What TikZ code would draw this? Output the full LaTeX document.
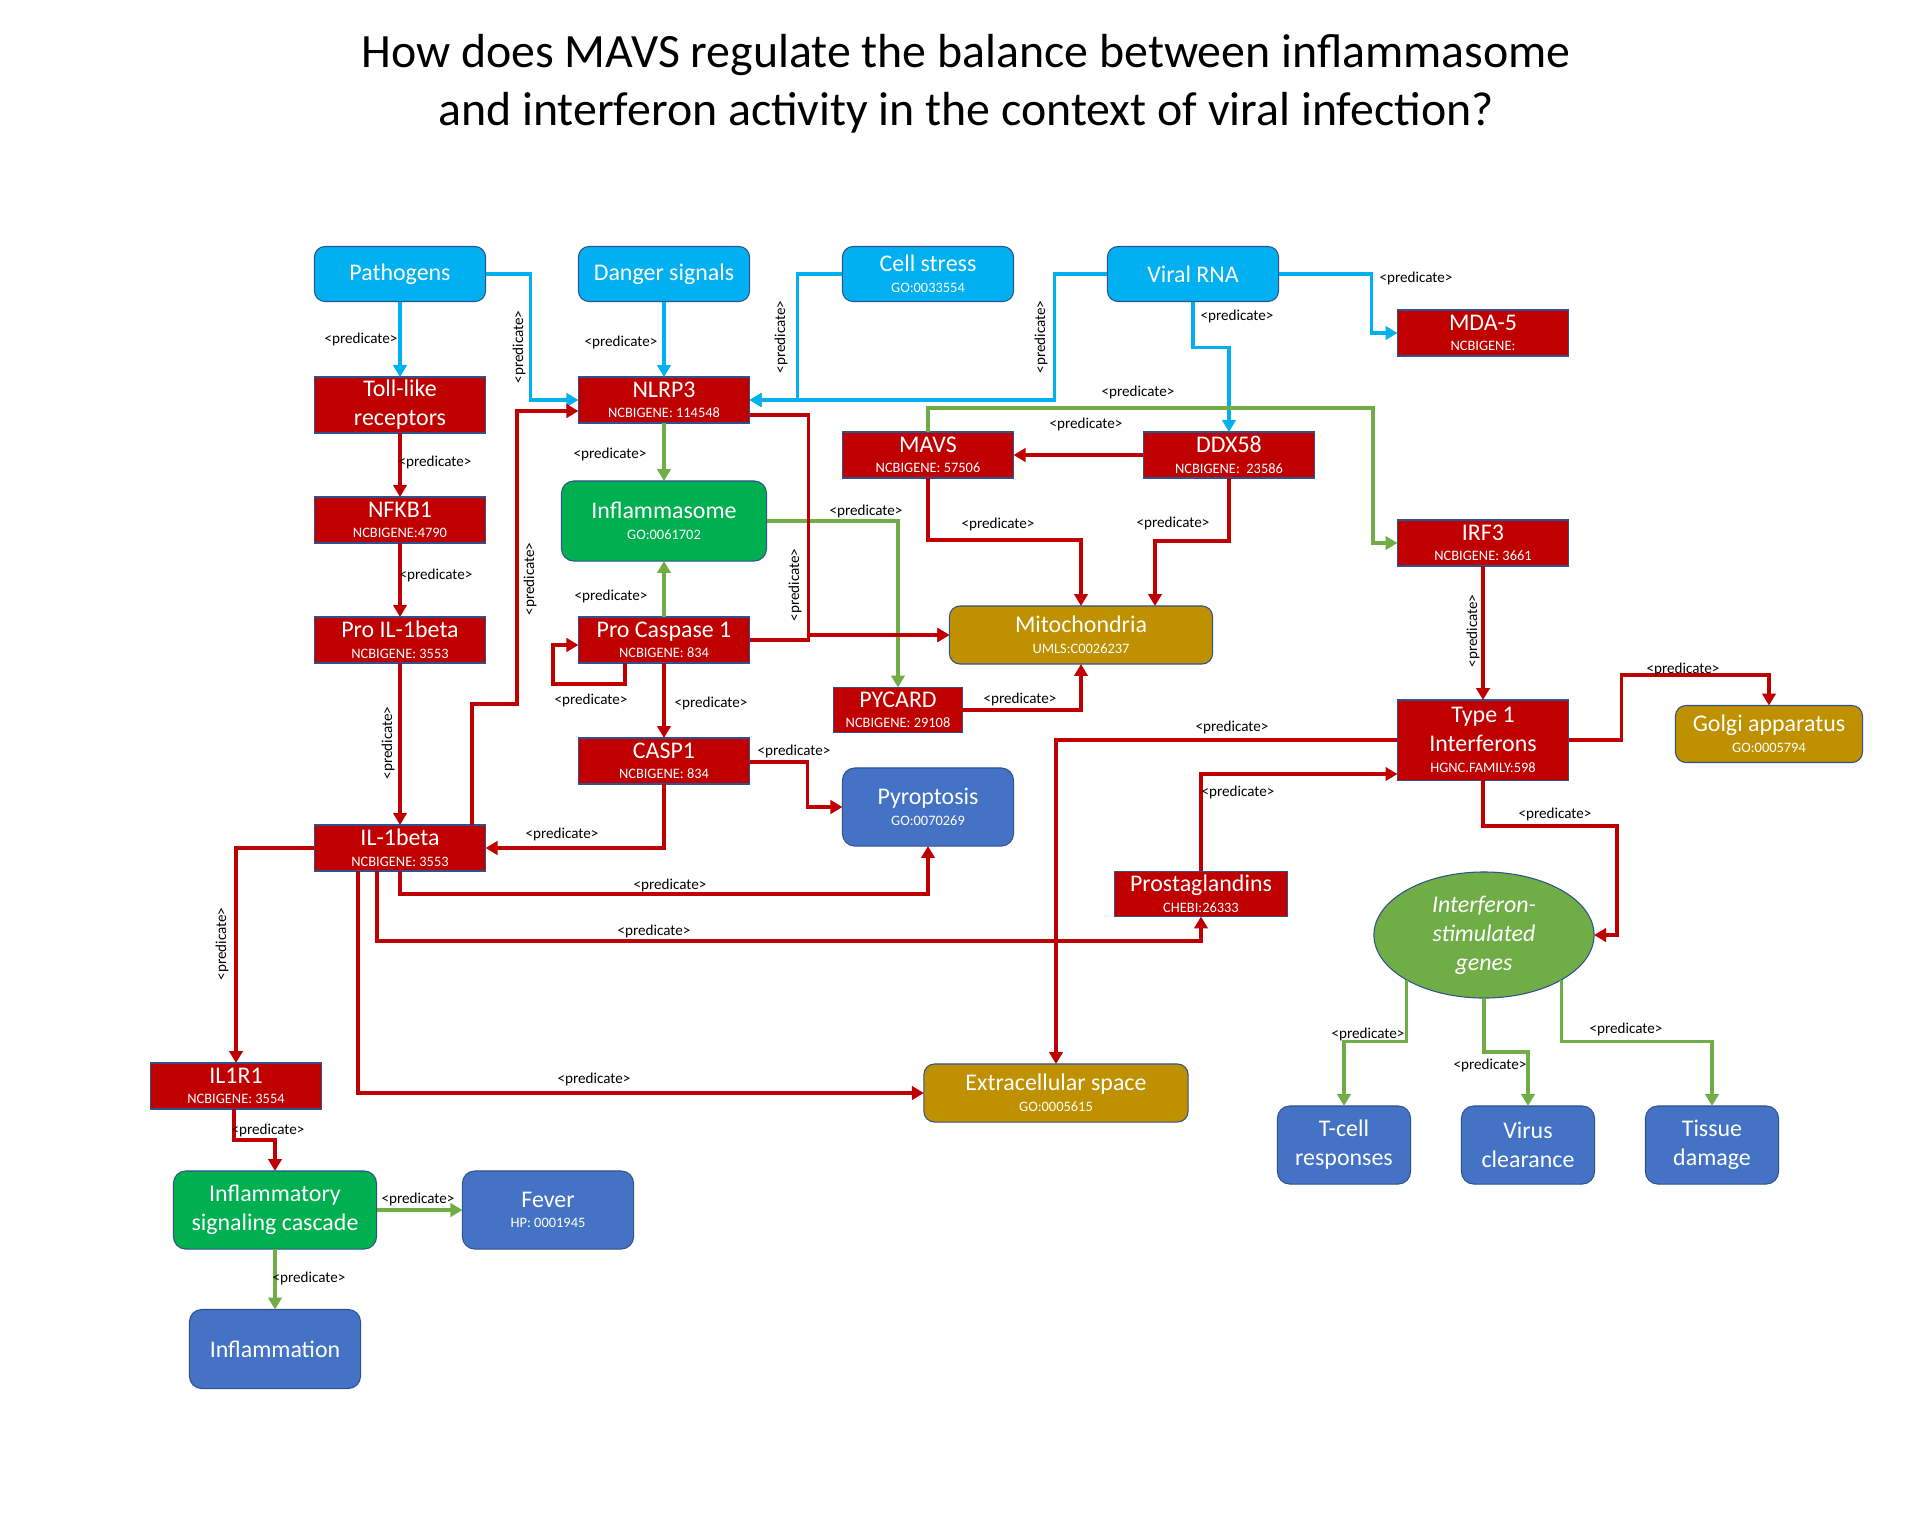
\documentclass[tikz,border=0pt]{standalone}
\usepackage{fontspec}
\setmainfont{Carlito}
\usetikzlibrary{arrows.meta,shapes.geometric,calc}
\definecolor{cyanbox}{HTML}{00B0F0}
\definecolor{redbox}{HTML}{C00000}
\definecolor{greenbox}{HTML}{00B050}
\definecolor{bluebox}{HTML}{4472C4}
\definecolor{goldbox}{HTML}{BF9000}
\definecolor{isgfill}{HTML}{70AD47}
\definecolor{edgeline}{HTML}{2F528F}
\definecolor{lnblue}{HTML}{00B0F0}
\definecolor{lnred}{HTML}{C00000}
\definecolor{lngreen}{HTML}{70AD47}
\newcommand\mainfs{\fontsize{6.8}{8.25}\selectfont}
\newcommand\subfs{\fontsize{4.1}{7.4}\selectfont}
\newcommand\predfs{\fontsize{4.3}{5}\selectfont}
\newcommand\idline{\\[-2.4pt]\subfs}
\tikzset{
 box/.style={draw=edgeline, line width=0.3pt, text=white, align=center, inner sep=0pt, outer sep=0pt, font=\mainfs, minimum width=1.71cm},
 redn/.style={box, fill=redbox, minimum height=0.46cm},
 cyann/.style={box, fill=cyanbox, rounded corners=3pt, minimum height=0.55cm},
 greenn/.style={box, fill=greenbox, rounded corners=3.5pt, minimum height=0.79cm},
 bluen/.style={box, fill=bluebox, rounded corners=3.5pt, minimum height=0.78cm},
 goldn/.style={box, fill=goldbox, rounded corners=3pt, minimum height=0.58cm},
 pred/.style={font=\predfs, text=black, inner sep=0pt},
 conn/.style={line width=0.9pt, -{Triangle[length=3.4pt,width=3.8pt]}},
 cb/.style={conn, draw=lnblue},
 cr/.style={conn, draw=lnred},
 cg/.style={conn, draw=lngreen}
}
\begin{document}
\begin{tikzpicture}[x=0.01cm,y=-0.01cm]
\fill[white] (0,0) rectangle (1920,1536);
\useasboundingbox (0,0) rectangle (1920,1536);

\node[font=\fontsize{13.6}{16.5}\selectfont, align=center, inner sep=0pt] (title) at (966,84)
 {How does MAVS regulate the balance between inflammasome\\and interferon activity in the context of viral infection?};

% nodes
\node[cyann] (pathogens) at (400,274) {Pathogens};
\node[cyann] (danger) at (664,274) {Danger signals};
\node[cyann] (cellstress) at (928,274) {Cell stress\idline GO:0033554};
\node[cyann] (viralrna) at (1193,274) {Viral RNA};
\node[redn] (mda5) at (1483,333) {MDA-5\idline NCBIGENE:};
\node[redn, minimum height=0.56cm] (tlr) at (400,405) {Toll-like\\receptors};
\node[redn] (nlrp3) at (664,400) {NLRP3\idline NCBIGENE: 114548};
\node[redn] (mavs) at (928,455) {MAVS\idline NCBIGENE: 57506};
\node[redn] (ddx58) at (1229,455) {DDX58\idline NCBIGENE: \ 23586};
\node[redn] (nfkb1) at (400,520) {NFKB1\idline NCBIGENE:4790};
\node[greenn, minimum width=2.05cm, minimum height=0.80cm] (inflammasome) at (664,521) {Inflammasome\idline GO:0061702};
\node[redn] (irf3) at (1483,543) {IRF3\idline NCBIGENE: 3661};
\node[redn] (proil) at (400,640) {Pro IL-1beta\idline NCBIGENE: 3553};
\node[redn] (procasp) at (664,640) {Pro Caspase 1\idline NCBIGENE: 834};
\node[goldn, minimum width=2.63cm] (mito) at (1081,635) {Mitochondria\idline UMLS:C0026237};
\node[redn, minimum width=1.28cm, minimum height=0.45cm] (pycard) at (898,710) {PYCARD\idline NCBIGENE: 29108};
\node[redn, minimum height=0.80cm] (type1) at (1483,740) {Type 1\\Interferons\idline HGNC.FAMILY:598};
\node[goldn, minimum width=1.87cm, minimum height=0.57cm] (golgi) at (1769,734) {Golgi apparatus\idline GO:0005794};
\node[redn] (casp1) at (664,761) {CASP1\idline NCBIGENE: 834};
\node[bluen] (pyro) at (928,807) {Pyroptosis\idline GO:0070269};
\node[redn] (il1b) at (400,848) {IL-1beta\idline NCBIGENE: 3553};
\node[redn, minimum width=1.73cm, minimum height=0.45cm] (prosta) at (1201,894) {Prostaglandins\idline CHEBI:26333};
\node[ellipse, draw=edgeline, line width=0.3pt, fill=isgfill, text=white, align=center, inner sep=0pt, outer sep=0pt,
      minimum width=2.2cm, minimum height=1.26cm, font=\mainfs\itshape] (isg) at (1484,935) {Interferon-\\stimulated\\genes};
\node[goldn, minimum width=2.64cm] (extra) at (1056,1093) {Extracellular space\idline GO:0005615};
\node[bluen, minimum width=1.33cm] (tcell) at (1344,1145) {T-cell\\responses};
\node[bluen, minimum width=1.33cm] (virus) at (1528,1145) {Virus\\clearance};
\node[bluen, minimum width=1.33cm] (tissue) at (1712,1145) {Tissue\\damage};
\node[redn] (il1r1) at (236,1086) {IL1R1\idline NCBIGENE: 3554};
\node[greenn, minimum width=2.03cm, minimum height=0.78cm] (cascade) at (275,1210) {Inflammatory\\signaling cascade};
\node[bluen] (fever) at (548,1210) {Fever\idline HP: 0001945};
\node[bluen, minimum height=0.79cm] (inflam) at (275,1349) {Inflammation};

% connectors
\draw[cb] (pathogens.south) -- (tlr.north);
\draw[cb] (pathogens.east) -- ++(45,0) |- (nlrp3.west);
\draw[cb] (danger.south) -- (nlrp3.north);
\draw[cb] (cellstress.west) -- ++(-45,0) |- (nlrp3.east);
\draw[cb] (viralrna.west) -- ++(-53,0) |- (nlrp3.east);
\draw[cb] (viralrna.east) -- ++(93,0) |- (mda5.west);
\draw[cb] (viralrna.south) -- ++(0,46) -| (ddx58.north);
\draw[cg] (mavs.north) -- ++(0,-24) -- ++(445,0) |- (irf3.west);
\draw[cr] (ddx58.west) -- (mavs.east);
\draw[cr] (mavs.south) -- ++(0,62) -| (mito.north);
\draw[cr] (ddx58.south) -- ++(0,63) -| ($(mito.north)+(74,0)$);
\draw[cg] (nlrp3.south) -- (inflammasome.north);
\draw[cg] (procasp.north) -- (inflammasome.south);
\draw[cg] (inflammasome.east) -| (pycard.north);
\draw[cr] ($(nlrp3.east)+(0,15)$) -- ++(59,0) |- (mito.west);
\draw[cr] (procasp.east) -- ++(59,0) |- (mito.west);
\draw[cr] ($(procasp.south)+(-39,0)$) -- ++(0,21) -- ++(-72,0) |- ($(procasp.west)+(0,5)$);
\draw[cr] (procasp.south) -- (casp1.north);
\draw[cr] (proil.south) -- (il1b.north);
\draw[cr] (tlr.south) -- (nfkb1.north);
\draw[cr] (nfkb1.south) -- (proil.north);
\draw[cr] ($(il1b.north)+(72,0)$) -- ++(0,-121) -- ++(45,0) |- ($(nlrp3.west)+(0,11)$);
\draw[cr] (casp1.south) |- (il1b.east);
\draw[cr] ($(casp1.east)+(0,1)$) -- ++(58,0) |- (pyro.west);
\draw[cr] (il1b.south) -- ++(0,23) -| (pyro.south);
\draw[cr] ($(il1b.south)+(-23,0)$) -- ++(0,70) -| (prosta.south);
\draw[cr] ($(il1b.south)+(-42,0)$) |- (extra.west);
\draw[cr] (il1b.west) -| (il1r1.north);
\draw[cr] ($(il1r1.south)+(-2,0)$) -- ++(0,31) -| (cascade.north);
\draw[cg] (cascade.east) -- (fever.west);
\draw[cg] (cascade.south) -- (inflam.north);
\draw[cr] (pycard.east) -| (mito.south);
\draw[cr] (irf3.south) -- (type1.north);
\draw[cr] (type1.west) -| (extra.north);
\draw[cr] (prosta.north) |- ($(type1.west)+(0,34)$);
\draw[cr] (type1.east) -- ++(53,0) -- ++(0,-65) -| (golgi.north);
\draw[cr] (type1.south) -- ++(0,46) -- ++(134,0) |- (isg.east);
\draw[cg] (isg.south west) -- ++(0,62) -| (tcell.north);
\draw[cg] (isg.south) -- ++(0,54) -| (virus.north);
\draw[cg] (isg.south east) -- ++(0,62) -| (tissue.north);

% labels
\node[pred] (p1) at (361,339) {<predicate>};
\node[pred, rotate=90] (p2) at (519,347) {<predicate>};
\node[pred] (p3) at (621,342) {<predicate>};
\node[pred, rotate=90] (p4) at (781,337) {<predicate>};
\node[pred, rotate=90] (p5) at (1041,337) {<predicate>};
\node[pred] (p6) at (1416,278) {<predicate>};
\node[pred] (p7) at (1237,316) {<predicate>};
\node[pred] (p8) at (1138,392) {<predicate>};
\node[pred] (p9) at (1086,424) {<predicate>};
\node[pred] (p10) at (998,524) {<predicate>};
\node[pred] (p11) at (1173,523) {<predicate>};
\node[pred] (p12) at (610,454) {<predicate>};
\node[pred] (p13) at (611,596) {<predicate>};
\node[pred] (p14) at (866,511) {<predicate>};
\node[pred, rotate=90] (p15) at (795,585) {<predicate>};
\node[pred] (p16) at (591,700) {<predicate>};
\node[pred] (p17) at (711,703) {<predicate>};
\node[pred, rotate=90] (p18) at (388,743) {<predicate>};
\node[pred] (p19) at (435,462) {<predicate>};
\node[pred] (p20) at (436,575) {<predicate>};
\node[pred, rotate=90] (p21) at (530,579) {<predicate>};
\node[pred] (p22) at (562,834) {<predicate>};
\node[pred] (p23) at (794,751) {<predicate>};
\node[pred] (p24) at (670,885) {<predicate>};
\node[pred] (p25) at (654,931) {<predicate>};
\node[pred] (p26) at (594,1079) {<predicate>};
\node[pred, rotate=90] (p27) at (222,944) {<predicate>};
\node[pred] (p28) at (268,1130) {<predicate>};
\node[pred] (p29) at (418,1199) {<predicate>};
\node[pred] (p30) at (309,1278) {<predicate>};
\node[pred] (p31) at (1020,699) {<predicate>};
\node[pred, rotate=90] (p32) at (1473,631) {<predicate>};
\node[pred] (p33) at (1232,727) {<predicate>};
\node[pred] (p34) at (1238,792) {<predicate>};
\node[pred] (p35) at (1683,669) {<predicate>};
\node[pred] (p36) at (1555,814) {<predicate>};
\node[pred] (p37) at (1368,1034) {<predicate>};
\node[pred] (p38) at (1490,1065) {<predicate>};
\node[pred] (p39) at (1626,1029) {<predicate>};
\end{tikzpicture}
\end{document}
